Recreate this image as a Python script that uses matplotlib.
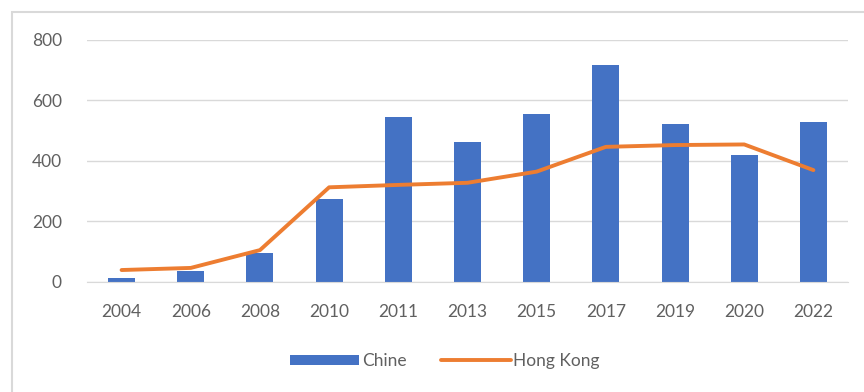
import numpy as np
import matplotlib.pyplot as plt
from matplotlib.patches import Rectangle

years = ['2004', '2006', '2008', '2010', '2011', '2013', '2015', '2017', '2019', '2020', '2022']
chine = [12, 36, 95, 273, 546, 462, 555, 717, 521, 418, 529]
hong_kong = [38, 45, 104, 312, 320, 327, 364, 446, 452, 454, 369]

plt.rcParams['font.family'] = ['Lato', 'DejaVu Sans']

fig = plt.figure(figsize=(8.64, 3.92), dpi=100)
# light frame around the chart (Excel style)
fig.patches.append(Rectangle((12 / 864, -0.05), 1.0, 1 - 12 / 392 + 0.05,
                             transform=fig.transFigure, fill=False,
                             edgecolor='#d9d9d9', linewidth=1.5))

ax = fig.add_axes([87 / 864, (392 - 281.5) / 392, 761 / 864, 241.5 / 392])
x = np.arange(len(years))
bars = ax.bar(x, chine, width=0.39, color='#4472C4', label='Chine', zorder=2)
line, = ax.plot(x, hong_kong, color='#ED7D31', linewidth=2.8, solid_joinstyle='round',
                solid_capstyle='round', label='Hong Kong', zorder=3)

ax.set_xlim(-0.5, len(years) - 0.5)
ax.set_ylim(0, 800)
ax.set_yticks([0, 200, 400, 600, 800])
ax.set_xticks(x)
ax.set_xticklabels(years)
ax.grid(axis='y', color='#d9d9d9', linewidth=1, zorder=0)
for s in ['top', 'right', 'left']:
    ax.spines[s].set_visible(False)
ax.spines['bottom'].set_color('#d9d9d9')
ax.tick_params(length=0, colors='#606060', labelsize=12.5)
ax.tick_params(axis='x', pad=16)
ax.tick_params(axis='y', pad=18)

leg = fig.legend([bars, line], ['Chine', 'Hong Kong'], loc='center',
                 bbox_to_anchor=(445 / 864, 1 - 361 / 392), ncol=2,
                 frameon=False, fontsize=12.5, handlelength=4.0, handleheight=0.5,
                 handletextpad=0.15, columnspacing=2.0)
for t in leg.get_texts():
    t.set_color('#606060')

fig.savefig('out.png', dpi=100)
